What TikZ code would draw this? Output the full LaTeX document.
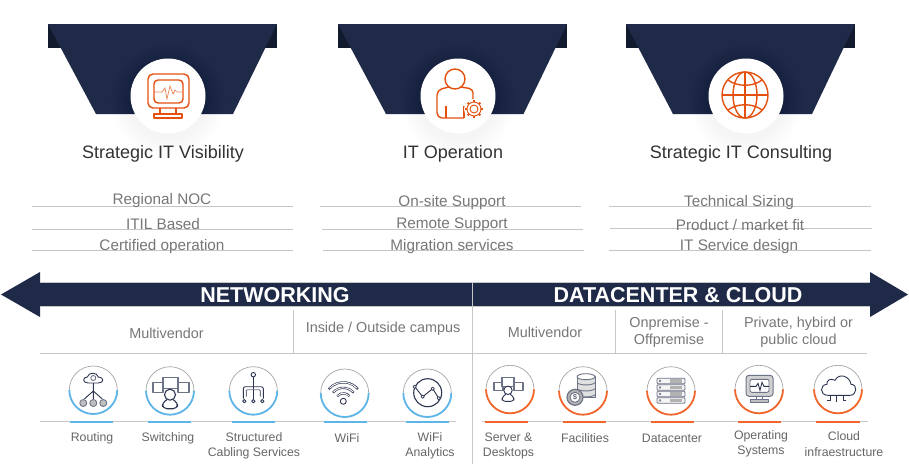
\documentclass[tikz,border=0pt]{standalone}
\usepackage{fontspec}
\setmainfont{Liberation Sans}
\definecolor{navy}{HTML}{1F2A48}
\definecolor{navydark}{HTML}{121B2E}
\definecolor{iconorange}{HTML}{E4500E}
\definecolor{accentorange}{HTML}{F2662B}
\definecolor{accentblue}{HTML}{5DB5E8}
\definecolor{ruleline}{HTML}{C6C6C6}
\definecolor{textgrey}{HTML}{777777}
\definecolor{icondark}{HTML}{2C3450}
\definecolor{icongrey}{HTML}{6E7488}
\tikzset{
 titletext/.style={text=black!80,font=\fontsize{18}{20}\selectfont},
 listtext/.style={text=textgrey,font=\fontsize{15.3}{18}\selectfont},
 bandtext/.style={text=white,font=\fontsize{21.5}{24}\selectfont\bfseries},
 headtext/.style={text=textgrey,align=center,font=\fontsize{14.4}{17}\selectfont},
 labeltext/.style={text=black!60,align=center,font=\fontsize{12.3}{15.4}\selectfont},
 hairline/.style={draw=ruleline,line width=0.8pt},
 orangeicon/.style={draw=iconorange,line width=1.4pt,line join=round},
 darkicon/.style={draw=icondark,line width=0.9pt,line join=round},
 greyicon/.style={draw=icongrey,line width=0.9pt,line join=round},
 ringtop/.style={draw=black!35,line width=0.7pt},
 blueart/.style={draw=accentblue,line width=1.8pt},
 orangeart/.style={draw=accentorange,line width=1.8pt},
 bluebar/.style={draw=accentblue,line width=2.4pt},
 orangebar/.style={draw=accentorange,line width=2.4pt},
}
\begin{document}
\begin{tikzpicture}[x=1pt,y=-1pt]
 \useasboundingbox (0,0) rectangle (909,464);
 \fill[white] (0,0) rectangle (909,464);
 \foreach \cl/\cr in {31/295,322/584,610/873}{
  \foreach \s in {3,6,...,24}{
   \fill[black,opacity=0.0012,rounded corners=10pt] ({\cl-\s},{48-\s}) rectangle ({\cr+\s},{185+\s});
  }
 }
 \fill[navydark] (48,24) rectangle (277,49);
 \fill[navydark] (338,24) rectangle (567,49);
 \fill[navydark] (626,24) rectangle (855,49);
 \fill[white] (31,48) rectangle (295,185);
 \fill[white] (322,48) rectangle (584,185);
 \fill[white] (610,48) rectangle (873,185);
 \fill[navy] (48,24)--(277,24)--(233,114)--(96,114)--cycle;
 \fill[navy] (338,24)--(567,24)--(523.5,114)--(386,114)--cycle;
 \fill[navy] (626,24)--(855,24)--(812,114)--(673,114)--cycle;
 \foreach \cx in {168,458,746}{
  \foreach \s in {2,4,...,20}{
   \fill[black,opacity=0.003] (\cx,101) circle[radius={37pt+\s pt}];
  }
  \fill[white] (\cx,96) circle[radius=37.5pt];
 }

 \begin{scope}[shift={(168,96)}]
  \draw[orangeicon,rounded corners=5pt] (-20,-22) rectangle (21,12);
  \draw[orangeicon,rounded corners=4pt] (-14,-16) rectangle (15,7);
  \draw[orangeicon] (-8,12)--(-8,18) (8,12)--(8,18);
  \draw[orangeicon] (-14,18) rectangle (14,22);
  \draw[iconorange!70,line width=0.7pt] (-14,-4)--(-6,-4)--(-3,-8)--(-1,3)--(2,-10)--(5,-2)--(7,-6)--(9,-4)--(15,-4);
 \end{scope}
 \begin{scope}[shift={(458,96)}]
  \draw[orangeicon] (-3,-17) circle[radius=10pt];
  \draw[orangeicon,rounded corners=5pt] (-9,-9)--(-21,-6)--(-21,22)--(6,22);
  \draw[orangeicon,rounded corners=4pt] (3,-9)--(15,-7)--(15,5);
  \draw[orangeicon] (-12,10)--(-12,22) (6,10)--(6,22);
  \fill[white] (16,13) circle[radius=10pt];
  \draw[orangeicon,line width=0.9pt] (16,13) circle[radius=7pt] (16,13) circle[radius=4pt];
  \foreach \a in {0,45,...,315}{
   \draw[iconorange,line width=2pt] (16,13)++(\a:7) -- ++(\a:2);
  }
 \end{scope}
 \begin{scope}[shift={(745,95)}]
  \draw[orangeicon] (0,0) circle[radius=23pt];
  \draw[orangeicon] (0,0) ellipse[x radius=12pt,y radius=23pt];
  \draw[orangeicon] (0,-23)--(0,23) (-23,0)--(23,0);
  \draw[orangeicon] (-17,-15) .. controls (-8,-8) and (8,-8) .. (17,-15);
  \draw[orangeicon] (-17,15) .. controls (-8,8) and (8,8) .. (17,15);
 \end{scope}

 \node[titletext] (titlea) at (163,154) {Strategic IT Visibility};
 \node[titletext] (titleb) at (453,154) {IT Operation};
 \node[titletext] (titlec) at (741,154) {Strategic IT Consulting};

 \draw[hairline] (32,206.5)--(293,206.5);
 \draw[hairline] (32,229)--(293,229);
 \draw[hairline] (32,250.5)--(293,250.5);
 \draw[hairline] (320,206.5)--(581,206.5);
 \draw[hairline] (322,229)--(583,229);
 \draw[hairline] (323,250.5)--(584,250.5);
 \draw[hairline] (609,206.5)--(871,206.5);
 \draw[hairline] (610,228.5)--(872,228.5);
 \draw[hairline] (609,250.5)--(871,250.5);

 \node[listtext] (lista) at (162,201) {Regional NOC};
 \node[listtext] (listb) at (163,224.5) {ITIL Based};
 \node[listtext] (listc) at (162,247) {Certified operation};
 \node[listtext] (listd) at (452,203) {On-site Support};
 \node[listtext] (liste) at (452,225) {Remote Support};
 \node[listtext] (listf) at (452,247) {Migration services};
 \node[listtext] (listg) at (739,202.5) {Technical Sizing};
 \node[listtext] (listh) at (740,225) {Product / market fit};
 \node[listtext] (listi) at (739,246.5) {IT Service design};

 \fill[navy] (1,294.5)--(40,272)--(40,283)--(870,283)--(870,272)--(908,294.5)--(870,317)--(870,306)--(40,306)--(40,317)--cycle;
 \draw[hairline] (40,282.5)--(870,282.5);
 \draw[hairline] (40,306.5)--(870,306.5);
 \draw[hairline] (472,283)--(472,464);
 \node[bandtext] (bandnet) at (275,295) {NETWORKING};
 \node[bandtext] (banddc) at (678,295) {DATACENTER \& CLOUD};

 \draw[hairline] (40,353.5)--(867,353.5);
 \draw[hairline] (293.5,310)--(293.5,353);
 \draw[hairline] (615,310)--(615,353);
 \draw[hairline] (722.7,310)--(722.7,353);
 \node[headtext] (heada) at (166.5,333) {Multivendor};
 \node[headtext] (headb) at (383,329) {Inside / Outside campus};
 \node[headtext] (headc) at (545,332.5) {Multivendor};
 \node[headtext] (headd) at (669,332.5) {Onpremise -\\Offpremise};
 \node[headtext] (heade) at (798.5,332.5) {Private, hybird or\\public cloud};

 \draw[hairline] (40,421.7)--(456,421.7);
 \draw[hairline] (482,421.7)--(868,421.7);
 \draw[bluebar] (70,421.7)--(113,421.7);
 \draw[bluebar] (148,421.7)--(191,421.7);
 \draw[bluebar] (232,421.7)--(275,421.7);
 \draw[bluebar] (324,421.7)--(367,421.7);
 \draw[bluebar] (406,421.7)--(449,421.7);
 \draw[orangebar] (485,421.7)--(528,421.7);
 \draw[orangebar] (563,421.7)--(606,421.7);
 \draw[orangebar] (651,421.7)--(694,421.7);
 \draw[orangebar] (738,421.7)--(781,421.7);
 \draw[orangebar] (816,421.7)--(860,421.7);

 \foreach \cx/\cy in {93.3/390,170/390.7,253.3/390.7,344.7/393,427.3/393}{
  \draw[ringtop] (\cx,\cy) circle[radius=24pt];
  \draw[blueart] ({\cx-24},\cy) arc[start angle=180,end angle=360,radius=24pt];
 }
 \foreach \cx/\cy in {510/389.3,583/390.7,671/390.7,759/389.3,838/389.3}{
  \draw[ringtop] (\cx,\cy) circle[radius=24pt];
  \draw[orangeart] ({\cx-24},\cy) arc[start angle=180,end angle=360,radius=24pt];
 }

 \begin{scope}[shift={(93.3,390)}]
  \draw[darkicon] (-5,-7) .. controls (-11,-7) and (-11,-13) .. (-6,-13) .. controls (-5,-18) and (4,-18) .. (5,-13) .. controls (11,-13) and (11,-7) .. (5,-7) -- cycle;
  \draw[greyicon] (0,-12) circle[radius=2.5pt];
  \draw[darkicon] (0,-7)--(0,9) (0,1)--(-9,9) (0,1)--(9,9);
  \draw[greyicon,fill=black!25] (-10,13) circle[radius=3.5pt];
  \draw[greyicon,fill=black!25] (0,13) circle[radius=3.5pt];
  \draw[greyicon,fill=black!25] (10,13) circle[radius=3.5pt];
 \end{scope}
 \begin{scope}[shift={(170,390.7)}]
  \draw[greyicon,line width=1.2pt] (-17,-8) rectangle (-7,2);
  \draw[greyicon,line width=1.2pt] (8,-8) rectangle (19,2);
  \draw[greyicon,line width=1.2pt,fill=white] (-7,-13) rectangle (8,-2);
  \draw[darkicon,line width=1.1pt,fill=white] (0,4) circle[radius=5.5pt];
  \draw[darkicon,line width=1.1pt,rounded corners=4pt] (-3,9)--(-8,12)--(-7,18)--(7,18)--(8,12)--(3,9);
 \end{scope}
 \begin{scope}[shift={(253.3,390.7)}]
  \draw[darkicon] (0,-16) circle[radius=2.2pt];
  \draw[darkicon] (0,-14)--(0,8);
  \draw[darkicon,rounded corners=2pt] (-10,8)--(-10,-4)--(10,-4)--(10,8);
  \draw[greyicon,rounded corners=1pt] (-7,6)--(-7,-1)--(7,-1)--(7,6);
  \draw[darkicon] (-9,10.5) circle[radius=1.7pt];
  \draw[darkicon] (0,10.5) circle[radius=1.7pt];
  \draw[darkicon] (9,10.5) circle[radius=1.7pt];
 \end{scope}
 \begin{scope}[shift={(344.7,393)}]
  \draw[darkicon] (-1.4,8.3) circle[radius=3pt];
  \foreach \r in {8,13.5,19}{
   \draw[draw=icondark,line width=2.2pt] ({-1.4+\r*cos(140)},{8.3-\r*sin(140)}) arc[start angle=140,end angle=40,radius=\r pt];
   \draw[draw=white,line width=0.9pt] ({-1.4+\r*cos(137)},{8.3-\r*sin(137)}) arc[start angle=137,end angle=43,radius=\r pt];
  }
 \end{scope}
 \begin{scope}[shift={(427.7,392.7)}]
  \draw[draw=icondark,line width=1.1pt] (0,0) circle[radius=14pt];
  \draw[darkicon] (-13,-6)--(-5,4)--(5,-4)--(11,5.5);
  \draw[darkicon,fill=white,line width=0.7pt] (-13,-6) circle[radius=1.7pt];
  \draw[darkicon,fill=white,line width=0.7pt] (-5,4) circle[radius=1.7pt];
  \draw[darkicon,fill=white,line width=0.7pt] (5,-4) circle[radius=1.7pt];
  \draw[darkicon,fill=white,line width=0.7pt] (11,5.5) circle[radius=1.7pt];
 \end{scope}

 \begin{scope}[shift={(508,389.3)}]
  \draw[greyicon,line width=1.1pt] (-14,-7) rectangle (-5,1);
  \draw[greyicon,line width=1.1pt] (6,-7) rectangle (15,1);
  \draw[greyicon,line width=1.1pt,fill=white] (-6,-12) rectangle (6,-3);
  \draw[darkicon,fill=white] (0,1) circle[radius=4.2pt];
  \draw[darkicon,rounded corners=3pt] (-2,5)--(-6,7.5)--(-6,12)--(6,12)--(6,7.5)--(2,5);
 \end{scope}
 \begin{scope}[shift={(583,390.7)}]
  \draw[greyicon,fill=black!12] (-6,-14) rectangle (12,7);
  \draw[greyicon,fill=white] (3,-14) ellipse[x radius=9pt,y radius=3pt];
  \draw[greyicon] (-6,-8) .. controls (-3,-5) and (9,-5) .. (12,-8);
  \draw[greyicon] (-6,-2) .. controls (-3,1) and (9,1) .. (12,-2);
  \draw[greyicon] (-6,4) .. controls (-3,7) and (9,7) .. (12,4);
  \draw[greyicon,fill=black!30,line width=1.2pt] (-8,6.6) circle[radius=8pt];
  \draw[greyicon,fill=white] (-8,6.6) circle[radius=5pt];
  \node[text=icondark,inner sep=0pt,font=\fontsize{7}{8}\selectfont] (coin) at (-8,6.6) {\$};
 \end{scope}
 \begin{scope}[shift={(671,390.7)}]
  \foreach \ry in {-12.5,-6,0.5,7}{
   \draw[greyicon,fill=black!4,rounded corners=1pt] (-14,\ry) rectangle (14,{\ry+5.5});
   \draw[greyicon,line width=0.5pt] (-11,{\ry+2.7}) circle[radius=1pt];
   \fill[black!30] (-1,{\ry+1}) rectangle (11,{\ry+4.5});
  }
 \end{scope}
 \begin{scope}[shift={(759,389.3)}]
  \draw[greyicon,fill=black!18,rounded corners=3pt,line width=1pt] (-13,-14) rectangle (14,7);
  \draw[greyicon,fill=white,rounded corners=2pt] (-9,-10) rectangle (10,3);
  \draw[draw=icondark,line width=0.9pt] (-9,-3)--(-3,-3)--(-1,-6)--(1,1)--(3,-7)--(5,-3)--(10,-3);
  \draw[greyicon] (-3,7)--(-3,10) (3,7)--(3,10);
  \draw[greyicon,fill=black!25] (-9,10) rectangle (9,13);
 \end{scope}
 \begin{scope}[shift={(838,389.3)}]
  \draw[draw=icondark,line width=0.9pt] (-10,6)--(12,6) .. controls (19,6) and (20,-5) .. (13,-5) .. controls (12,-13) and (1,-17) .. (-3,-9) .. controls (-8,-12) and (-12,-8) .. (-11,-5) .. controls (-18,-5) and (-19,6) .. (-10,6);
  \draw[darkicon] (-1.5,6)--(-1.5,12.5) (-11,11)--(-8,11)--(-8,6) (8,11)--(5,11)--(5,6);
 \end{scope}

 \node[labeltext] (labela) at (92,438.5) {Routing};
 \node[labeltext] (labelb) at (168,438) {Switching};
 \node[labeltext] (labelc) at (254,446) {Structured\\Cabling Services};
 \node[labeltext] (labeld) at (347,438) {WiFi};
 \node[labeltext] (labele) at (430,446) {WiFi\\Analytics};
 \node[labeltext] (labelf) at (508.5,446) {Server \&\\Desktops};
 \node[labeltext] (labelg) at (585,438) {Facilities};
 \node[labeltext] (labelh) at (672,438) {Datacenter};
 \node[labeltext] (labeli) at (761,444) {Operating\\Systems};
 \node[labeltext] (labelj) at (844,444) {Cloud\\infraestructure};
\end{tikzpicture}
\end{document}
